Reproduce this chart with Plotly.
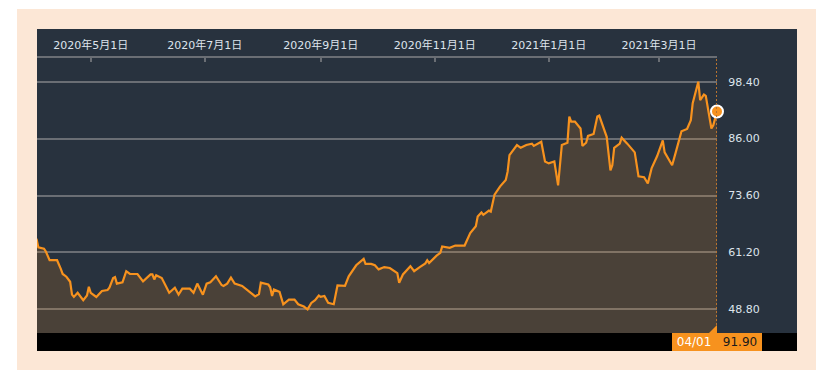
import plotly.graph_objects as go

# ---- data ----
dates = [
    "2020-04-02", "2020-04-03", "2020-04-06", "2020-04-07", "2020-04-09", "2020-04-13", "2020-04-15",
    "2020-04-16", "2020-04-18", "2020-04-20", "2020-04-21", "2020-04-22", "2020-04-24", "2020-04-27",
    "2020-04-29", "2020-04-30", "2020-05-01", "2020-05-04", "2020-05-07", "2020-05-10", "2020-05-11",
    "2020-05-13", "2020-05-14", "2020-05-15", "2020-05-18", "2020-05-20", "2020-05-22", "2020-05-26",
    "2020-05-29", "2020-06-02", "2020-06-03", "2020-06-04", "2020-06-05", "2020-06-08", "2020-06-12",
    "2020-06-15", "2020-06-17", "2020-06-19", "2020-06-23", "2020-06-25", "2020-06-27", "2020-06-30",
    "2020-07-02", "2020-07-04", "2020-07-07", "2020-07-10", "2020-07-11", "2020-07-13", "2020-07-15",
    "2020-07-17", "2020-07-21", "2020-07-24", "2020-07-28", "2020-07-30", "2020-07-31", "2020-08-04",
    "2020-08-05", "2020-08-06", "2020-08-07", "2020-08-10", "2020-08-12", "2020-08-15", "2020-08-18",
    "2020-08-20", "2020-08-23", "2020-08-25", "2020-08-27", "2020-08-29", "2020-08-31", "2020-09-01",
    "2020-09-03", "2020-09-05", "2020-09-08", "2020-09-10", "2020-09-12", "2020-09-14", "2020-09-16",
    "2020-09-18", "2020-09-20", "2020-09-24", "2020-09-25", "2020-09-28", "2020-09-30", "2020-10-02",
    "2020-10-05", "2020-10-08", "2020-10-10", "2020-10-12", "2020-10-13", "2020-10-15", "2020-10-19",
    "2020-10-21", "2020-10-24", "2020-10-27", "2020-10-28", "2020-10-29", "2020-11-02", "2020-11-04",
    "2020-11-05", "2020-11-09", "2020-11-12", "2020-11-17", "2020-11-20", "2020-11-23", "2020-11-24",
    "2020-11-26", "2020-11-27", "2020-11-30", "2020-12-01", "2020-12-03", "2020-12-06", "2020-12-09",
    "2020-12-10", "2020-12-11", "2020-12-15", "2020-12-17", "2020-12-20", "2020-12-23", "2020-12-24",
    "2020-12-28", "2020-12-30", "2021-01-01", "2021-01-04", "2021-01-06", "2021-01-08", "2021-01-11",
    "2021-01-12", "2021-01-13", "2021-01-15", "2021-01-18", "2021-01-19", "2021-01-21", "2021-01-22",
    "2021-01-25", "2021-01-27", "2021-01-28", "2021-02-01", "2021-02-02", "2021-02-03", "2021-02-04",
    "2021-02-05", "2021-02-08", "2021-02-09", "2021-02-12", "2021-02-16", "2021-02-18", "2021-02-21",
    "2021-02-23", "2021-02-25", "2021-02-28", "2021-03-03", "2021-03-04", "2021-03-08", "2021-03-10",
    "2021-03-13", "2021-03-16", "2021-03-18", "2021-03-19", "2021-03-22", "2021-03-23", "2021-03-25",
    "2021-03-26", "2021-03-29", "2021-03-30", "2021-04-01",
]
prices = [
    64.2, 62.3, 62.0, 61.4, 59.5, 59.5, 57.6,
    56.5, 55.9, 54.8, 52.0, 51.5, 52.4, 50.8,
    51.8, 53.7, 52.4, 51.5, 52.8, 53.0, 53.5,
    55.6, 55.8, 54.4, 54.7, 57.1, 56.5, 56.5,
    54.9, 56.4, 56.4, 55.3, 56.2, 55.6, 52.4,
    53.5, 52.0, 53.3, 53.3, 52.4, 54.4, 52.0,
    54.4, 54.7, 56.0, 54.1, 53.9, 54.4, 55.7,
    54.4, 53.9, 52.9, 51.6, 52.1, 54.6, 54.2,
    53.6, 51.7, 53.1, 52.6, 49.9, 50.9, 50.9,
    49.9, 49.4, 48.8, 50.2, 50.8, 51.8, 51.5,
    51.7, 50.2, 49.9, 54.0, 54.0, 53.9, 56.0,
    57.1, 58.4, 59.8, 58.7, 58.7, 58.4, 57.5,
    58.0, 57.8, 57.2, 56.7, 54.6, 56.4, 58.2,
    57.1, 58.0, 58.8, 59.5, 58.9, 60.5, 61.1,
    62.5, 62.2, 62.7, 62.7, 65.4, 66.9, 69.0,
    69.9, 69.4, 70.3, 70.1, 73.8, 75.6, 77.0,
    78.8, 82.4, 84.6, 84.0, 84.6, 84.9, 84.4,
    85.3, 81.0, 80.6, 81.0, 75.8, 84.6, 85.1,
    90.8, 89.7, 89.7, 88.2, 84.4, 85.1, 86.6,
    87.0, 90.8, 91.0, 86.4, 83.1, 79.1, 80.2,
    84.0, 84.9, 86.2, 84.9, 83.0, 77.8, 77.6,
    76.2, 79.5, 82.2, 85.6, 83.0, 80.2, 83.1,
    87.6, 88.1, 90.0, 93.7, 98.4, 94.4, 95.6,
    95.3, 88.2, 88.9, 91.9,
]
y_ticks = [48.8, 61.2, 73.6, 86.0, 98.4]
y_tick_labels = ["48.80", "61.20", "73.60", "86.00", "98.40"]
last_label = "04/01"

# ---- styling ----
# the page adds an 8px body margin; the figure is sized to fit inside the window
OFF = 8
W, H = 832 - 2 * OFF, 386 - 2 * OFF
ORANGE = "#f7921e"
PANEL = "#28323e"
FONT = "DejaVu Sans, Noto Sans CJK JP, sans-serif"
TICKFONT = "#dde4ec"
GRID = "#6a6e74"


def px(x):
    return (x - OFF) / W


def py(y):
    return (H - (y - OFF)) / H


plot_l, plot_r, plot_t, plot_b = 36.5, 717, 58, 333

fig = go.Figure()

# main area + line
fig.add_trace(go.Scatter(
    x=dates, y=prices, mode="lines",
    line=dict(color=ORANGE, width=2.2),
    fill="tozeroy", fillcolor="rgba(247,147,30,0.165)",
    hoverinfo="skip", showlegend=False,
))
# last point marker
fig.add_trace(go.Scatter(
    x=[dates[-1]], y=[prices[-1]], mode="markers",
    marker=dict(color=ORANGE, size=12, line=dict(color="white", width=2)),
    hoverinfo="skip", showlegend=False, cliponaxis=False,
))

# dotted frame (four strips) on a full-paper helper subplot
ox0, oy0, ox1, oy1 = 17, 9, 816, 370
ix0, iy0, ix1, iy1 = 37, 29, 797, 351
strips = [
    (ox0, oy0, ox1, iy0),
    (ox0, iy1, ox1, oy1),
    (ox0, iy0, ix0, iy1),
    (ix1, iy0, ox1, iy1),
]
for (a, b, c, d) in strips:
    fig.add_trace(go.Scatter(
        x=[a - OFF, c - OFF, c - OFF, a - OFF, a - OFF],
        y=[b - OFF, b - OFF, d - OFF, d - OFF, b - OFF], mode="lines",
        line=dict(width=0), fill="toself", fillcolor="rgba(0,0,0,0)",
        fillpattern=dict(shape=".", fgcolor="#ec8432", bgcolor="white", size=2, solidity=0.45),
        xaxis="x2", yaxis="y2", hoverinfo="skip", showlegend=False,
    ))

shapes = [
    # dark panel
    dict(type="rect", xref="paper", yref="paper", x0=px(ix0), x1=px(ix1), y0=py(iy1), y1=py(iy0),
         fillcolor=PANEL, line=dict(width=0), layer="below"),
    # black bar under plot
    dict(type="rect", xref="paper", yref="paper", x0=px(ix0), x1=px(ix1), y0=py(iy1), y1=py(plot_b),
         fillcolor="black", line=dict(width=0), layer="below"),
    # dotted vertical line at last date
    dict(type="line", xref="x", yref="paper", x0=dates[-1], x1=dates[-1], y0=py(plot_b), y1=py(plot_t),
         line=dict(color="#b8732f", width=2, dash="2px,2px"), layer="above"),
    # small triangle above the label
    dict(type="path", xref="x", xsizemode="pixel", xanchor=dates[-1],
         yref="paper", ysizemode="pixel", yanchor=py(plot_b),
         path="M -8,0 L 0,8 L 8,0 Z", fillcolor=ORANGE, line=dict(width=0), layer="above"),
]

annotations = [
    dict(x=dates[-1], xref="x", y=py(plot_b), yref="paper", xanchor="center", yanchor="top",
         showarrow=False, width=90, height=18, bgcolor=ORANGE, borderpad=0, borderwidth=0,
         text=f"<span style='color:white'>{last_label}</span>\u00a0\u00a0\u00a0<span style='color:#1a1a1a'>{prices[-1]:.2f}</span>",
         font=dict(family=FONT, size=12)),
]

fig.update_layout(
    width=W, height=H,
    margin=dict(l=0, r=0, t=0, b=0),
    paper_bgcolor="white", plot_bgcolor="rgba(0,0,0,0)",
    showlegend=False,
    shapes=shapes, annotations=annotations,
    xaxis=dict(
        domain=[px(plot_l), px(plot_r)], type="date",
        range=["2020-04-02", "2021-04-01"], side="top",
        tick0="2020-05-01", dtick="M2", tickformat="%Y年%-m月%-d日",
        showgrid=False, zeroline=False,
        showline=True, linecolor=GRID, linewidth=2,
        ticks="inside", ticklen=4, tickwidth=2, tickcolor=GRID,
        tickfont=dict(family=FONT, size=11, color=TICKFONT),
        ticklabelstandoff=3,
        fixedrange=True,
    ),
    yaxis=dict(
        domain=[py(plot_b), py(plot_t)], range=[43.64, 103.56], side="right",
        tickvals=y_ticks, ticktext=y_tick_labels,
        showgrid=True, gridcolor=GRID, gridwidth=2, zeroline=False, showline=False,
        ticks="outside", ticklen=8, tickcolor="rgba(0,0,0,0)",
        tickfont=dict(family=FONT, size=11, color=TICKFONT),
        fixedrange=True,
    ),
    xaxis2=dict(domain=[0, 1], range=[0, W], visible=False, anchor="y2", fixedrange=True),
    yaxis2=dict(domain=[0, 1], range=[H, 0], visible=False, anchor="x2", fixedrange=True),
)

fig.write_html("out.html")
